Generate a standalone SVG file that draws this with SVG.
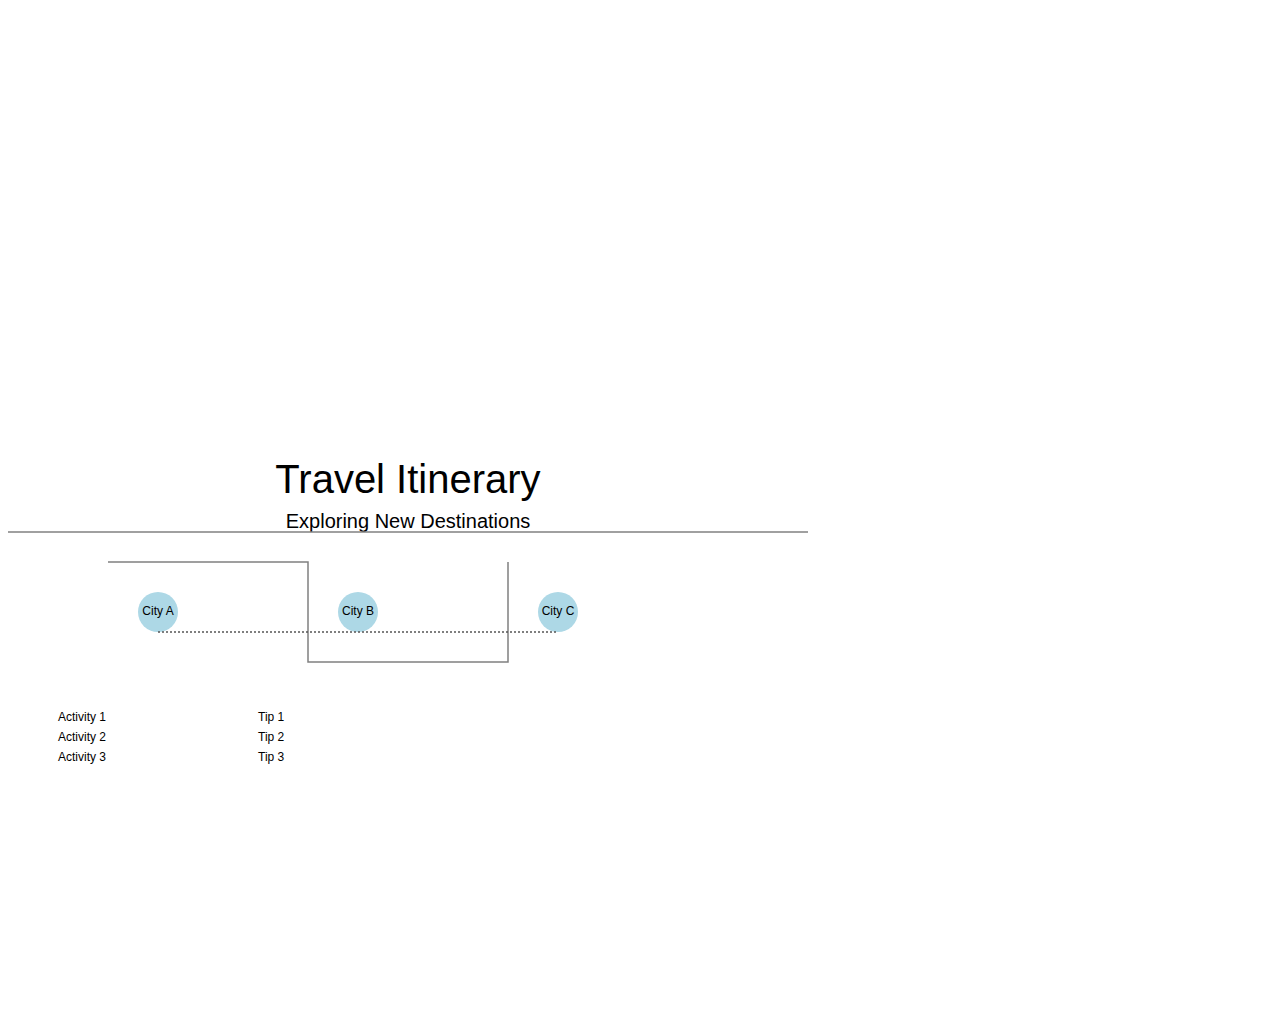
<svg xmlns="http://www.w3.org/2000/svg" width="1280" height="1024" viewBox="0 0 1280 1024">
<style>
text{font-family:"Liberation Sans",Arial,sans-serif;fill:#000}
.ln{fill:none;stroke:#808080;stroke-width:1.5}
.city{fill:#ADD8E6}
.lbl{font-size:12px;text-anchor:middle}
.item{font-size:12px}
</style>
<rect width="1280" height="1024" fill="#fff"/>
<g id="header">
<text x="408" y="493" font-size="40" text-anchor="middle">Travel Itinerary</text>
<text x="408" y="528" font-size="20" text-anchor="middle">Exploring New Destinations</text>
<line class="ln" x1="8" y1="532" x2="808" y2="532"/>
</g>
<g id="cityA"><circle class="city" cx="158" cy="612" r="20"/><text class="lbl" x="158" y="615">City A</text></g>
<g id="cityB"><circle class="city" cx="358" cy="612" r="20"/><text class="lbl" x="358" y="615">City B</text></g>
<g id="cityC"><circle class="city" cx="558" cy="612" r="20"/><text class="lbl" x="558" y="615">City C</text></g>
<g id="connectors">
<path class="ln" d="M108 562H308V662H508V562"/>
<line x1="158" y1="632" x2="558" y2="632" stroke="#555" stroke-width="1.5" stroke-dasharray="2,2"/>
</g>
<g id="activities">
<text class="item" x="58" y="721">Activity 1</text>
<text class="item" x="58" y="741">Activity 2</text>
<text class="item" x="58" y="761">Activity 3</text>
</g>
<g id="tips">
<text class="item" x="258" y="721">Tip 1</text>
<text class="item" x="258" y="741">Tip 2</text>
<text class="item" x="258" y="761">Tip 3</text>
</g>
</svg>
